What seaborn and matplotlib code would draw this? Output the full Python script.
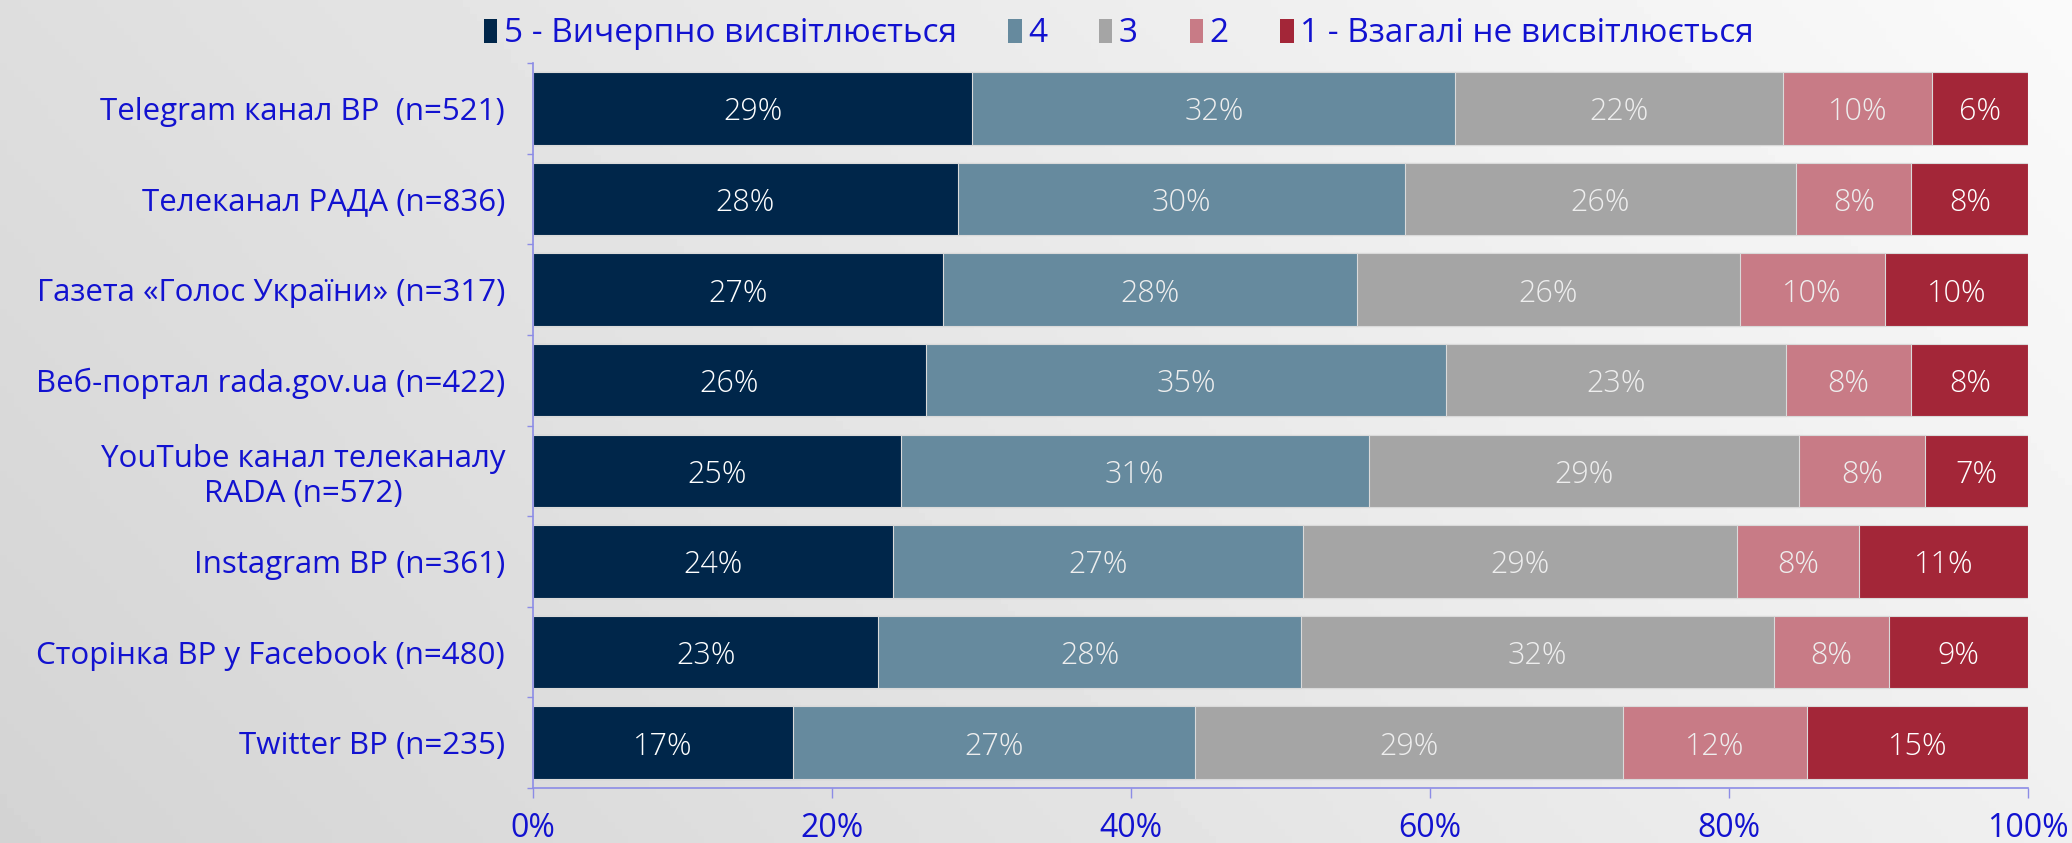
import matplotlib
matplotlib.use("Agg")
import matplotlib.pyplot as plt
import seaborn as sns
import pandas as pd
import numpy as np
from matplotlib.patches import Patch
from matplotlib.ticker import FixedLocator, PercentFormatter

# Data
channels = [
    "Telegram канал ВР  (n=521)",
    "Телеканал РАДА (n=836)",
    "Газета «Голос України» (n=317)",
    "Веб-портал rada.gov.ua (n=422)",
    "YouTube канал телеканалу\nRADA (n=572)",
    "Instagram ВР (n=361)",
    "Сторінка ВР у Facebook (n=480)",
    "Twitter ВР (n=235)",
]
levels = ["5 - Вичерпно висвітлюється", "4", "3", "2", "1 - Взагалі не висвітлюється"]
score_5 = [29.4, 28.4, 27.4, 26.3, 24.6, 24.1, 23.1, 17.4]
score_4 = [32.3, 29.9, 27.7, 34.8, 31.3, 27.4, 28.3, 26.9]
score_3 = [21.9, 26.2, 25.6, 22.7, 28.8, 29.0, 31.6, 28.6]
score_2 = [10.0, 7.7, 9.7, 8.4, 8.4, 8.2, 7.7, 12.3]
score_1 = [6.4, 7.8, 9.6, 7.8, 6.9, 11.3, 9.3, 14.8]

colors = ["#00264a", "#668a9e", "#a5a5a5", "#c87b86", "#a32638"]
label_colors = ["white", "#eeeeee", "#eeeeee", "#eeeeee", "white"]
text_blue = "#1212d0"
line_blue = "#8c8ce6"

df = pd.DataFrame({"channel": channels, "5": score_5, "4": score_4,
                   "3": score_3, "2": score_2, "1": score_1})
cols = ["5", "4", "3", "2", "1"]
cum = df[cols].cumsum(axis=1)

sns.set_theme(style="white")
plt.rcParams["font.family"] = ["Open Sans", "DejaVu Sans"]

fig = plt.figure(figsize=(20.72, 8.43), dpi=100)

# gradient background
bg = fig.add_axes([0, 0, 1, 1], zorder=-10)
gx, gy = np.meshgrid(np.linspace(0, 1, 300), np.linspace(0, 1, 120))
grad = 0.83 + 0.11 * gx + 0.04 * (1 - gy)
bg.imshow(grad, cmap="gray", vmin=0, vmax=1, aspect="auto", extent=[0, 1, 0, 1])
bg.axis("off")

ax = fig.add_axes([0.2572, 0.0652, 0.7216, 0.86])
ax.patch.set_alpha(0)

# stacked bars: draw cumulative totals from the outermost inwards
for i in reversed(range(len(cols))):
    sns.barplot(x=cum[cols[i]], y=df["channel"], color=colors[i], orient="h",
                width=0.8, ax=ax, edgecolor="#dadada", linewidth=0.8,
                saturation=1)

# value labels
for i, c in enumerate(cols):
    starts = cum[c] - df[c]
    for j, (s, v) in enumerate(zip(starts, df[c])):
        ax.text(s + v / 2, j, f"{v:.0f}%", ha="center", va="center_baseline",
                color=label_colors[i], fontsize=22, fontweight="light")

ax.set_xlim(0, 100)
ax.set_ylim(len(channels) - 0.5, -0.5)
ax.set_xlabel("")
ax.set_ylabel("")
ax.xaxis.set_major_locator(FixedLocator([0, 20, 40, 60, 80, 100]))
ax.xaxis.set_major_formatter(PercentFormatter(100, decimals=0))
ax.tick_params(axis="x", colors=line_blue, labelcolor=text_blue, labelsize=23,
               length=7, width=1, direction="out", bottom=True, pad=10)
ax.tick_params(axis="y", which="major", length=0, pad=20, labelcolor=text_blue,
               labelsize=22.5)
ax.yaxis.set_minor_locator(FixedLocator(np.arange(-0.5, len(channels), 1)))
ax.tick_params(axis="y", which="minor", left=True, length=4, width=1,
               color=line_blue)
for lab in ax.get_yticklabels():
    lab.set_multialignment("center")

for side in ["top", "right"]:
    ax.spines[side].set_visible(False)
for side in ["left", "bottom"]:
    ax.spines[side].set_color(line_blue)
    ax.spines[side].set_linewidth(1.2)

handles = [Patch(facecolor=c, edgecolor="none") for c in colors]
leg = fig.legend(handles, levels, loc="upper center", bbox_to_anchor=(0.54, 1.015),
                 ncol=5, frameon=False, fontsize=24, handlelength=0.4,
                 handleheight=0.75, handletextpad=0.2, columnspacing=1.55)
for t in leg.get_texts():
    t.set_color(text_blue)

fig.savefig("out.png", dpi=100)
